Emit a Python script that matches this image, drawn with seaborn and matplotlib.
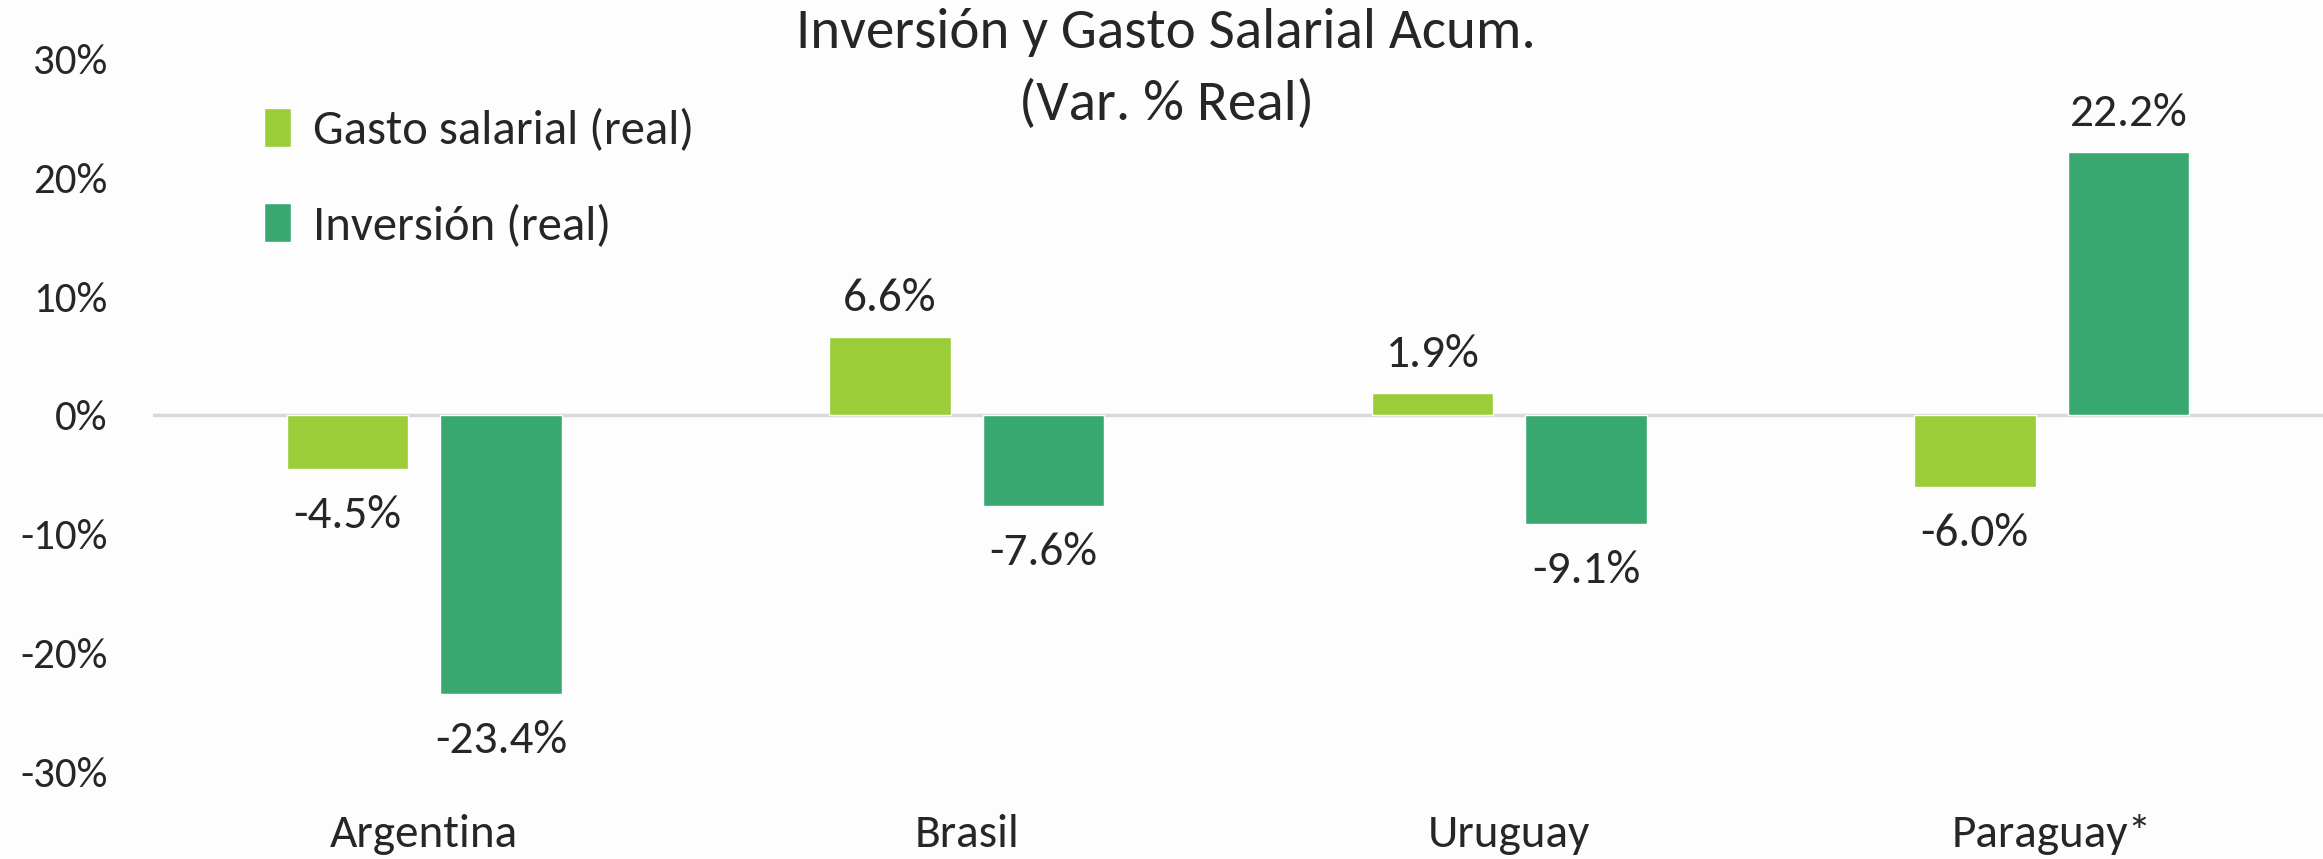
import pandas as pd
import matplotlib.pyplot as plt
import seaborn as sns
import numpy as np

# values (var. % real)
paises = ["Argentina", "Brasil", "Uruguay", "Paraguay*"]
gasto_salarial = [-4.5, 6.6, 1.9, -6.0]
inversion = [-23.4, -7.6, -9.1, 22.2]
series = ["Gasto salarial (real)", "Inversión (real)"]
colores = ["#9ACD38", "#38A870"]

df = pd.DataFrame({
    "pais": paises * 2,
    "serie": [series[0]] * 4 + [series[1]] * 4,
    "valor": gasto_salarial + inversion,
})

sns.set_style("white")
plt.rcParams["font.family"] = ["Carlito", "Liberation Sans Narrow", "DejaVu Sans"]

fig = plt.figure(figsize=(23.23, 8.59), dpi=100, facecolor="#FDFDFD")
ax = fig.add_axes([0.0659, 0.1013, 0.934, 0.83])
ax.set_facecolor("#FDFDFD")

sns.barplot(data=df, x="pais", y="valor", hue="serie", palette=colores,
            width=0.566, gap=0.208, ax=ax, saturation=1)

# data labels - negatives sit a bit further from the bar
for cont in ax.containers:
    pos = [f"{v:.1f}%" if v >= 0 else "" for v in cont.datavalues]
    neg = [f"{v:.1f}%" if v < 0 else "" for v in cont.datavalues]
    ax.bar_label(cont, labels=pos, padding=13, fontsize=34)
    ax.bar_label(cont, labels=neg, padding=19, fontsize=34)

ax.set_ylim(-30, 30)
ax.set_yticks([-30, -20, -10, 0, 10, 20, 30])
ax.set_yticklabels([f"{t}%" for t in [-30, -20, -10, 0, 10, 20, 30]])
ax.axhline(0, color="#D9D9D9", linewidth=2.5, zorder=0)
ax.tick_params(axis="y", length=0, pad=33, labelsize=31)
ax.tick_params(axis="x", length=0, pad=30, labelsize=34)
ax.set_xlabel("")
ax.set_ylabel("")
sns.despine(ax=ax, left=True, bottom=True)

ax.legend(loc="upper left", bbox_to_anchor=(0.095, 0.925), bbox_transform=fig.transFigure,
          frameon=False, fontsize=35, handlelength=0.55, handleheight=0.85,
          handletextpad=0.45, labelspacing=1.05)

fig.text(0.502, 0.962, "Inversión y Gasto Salarial Acum.", ha="center", va="center", fontsize=41)
fig.text(0.502, 0.879, "(Var. % Real)", ha="center", va="center", fontsize=41)

fig.savefig("out.png", dpi=100, facecolor=fig.get_facecolor())
